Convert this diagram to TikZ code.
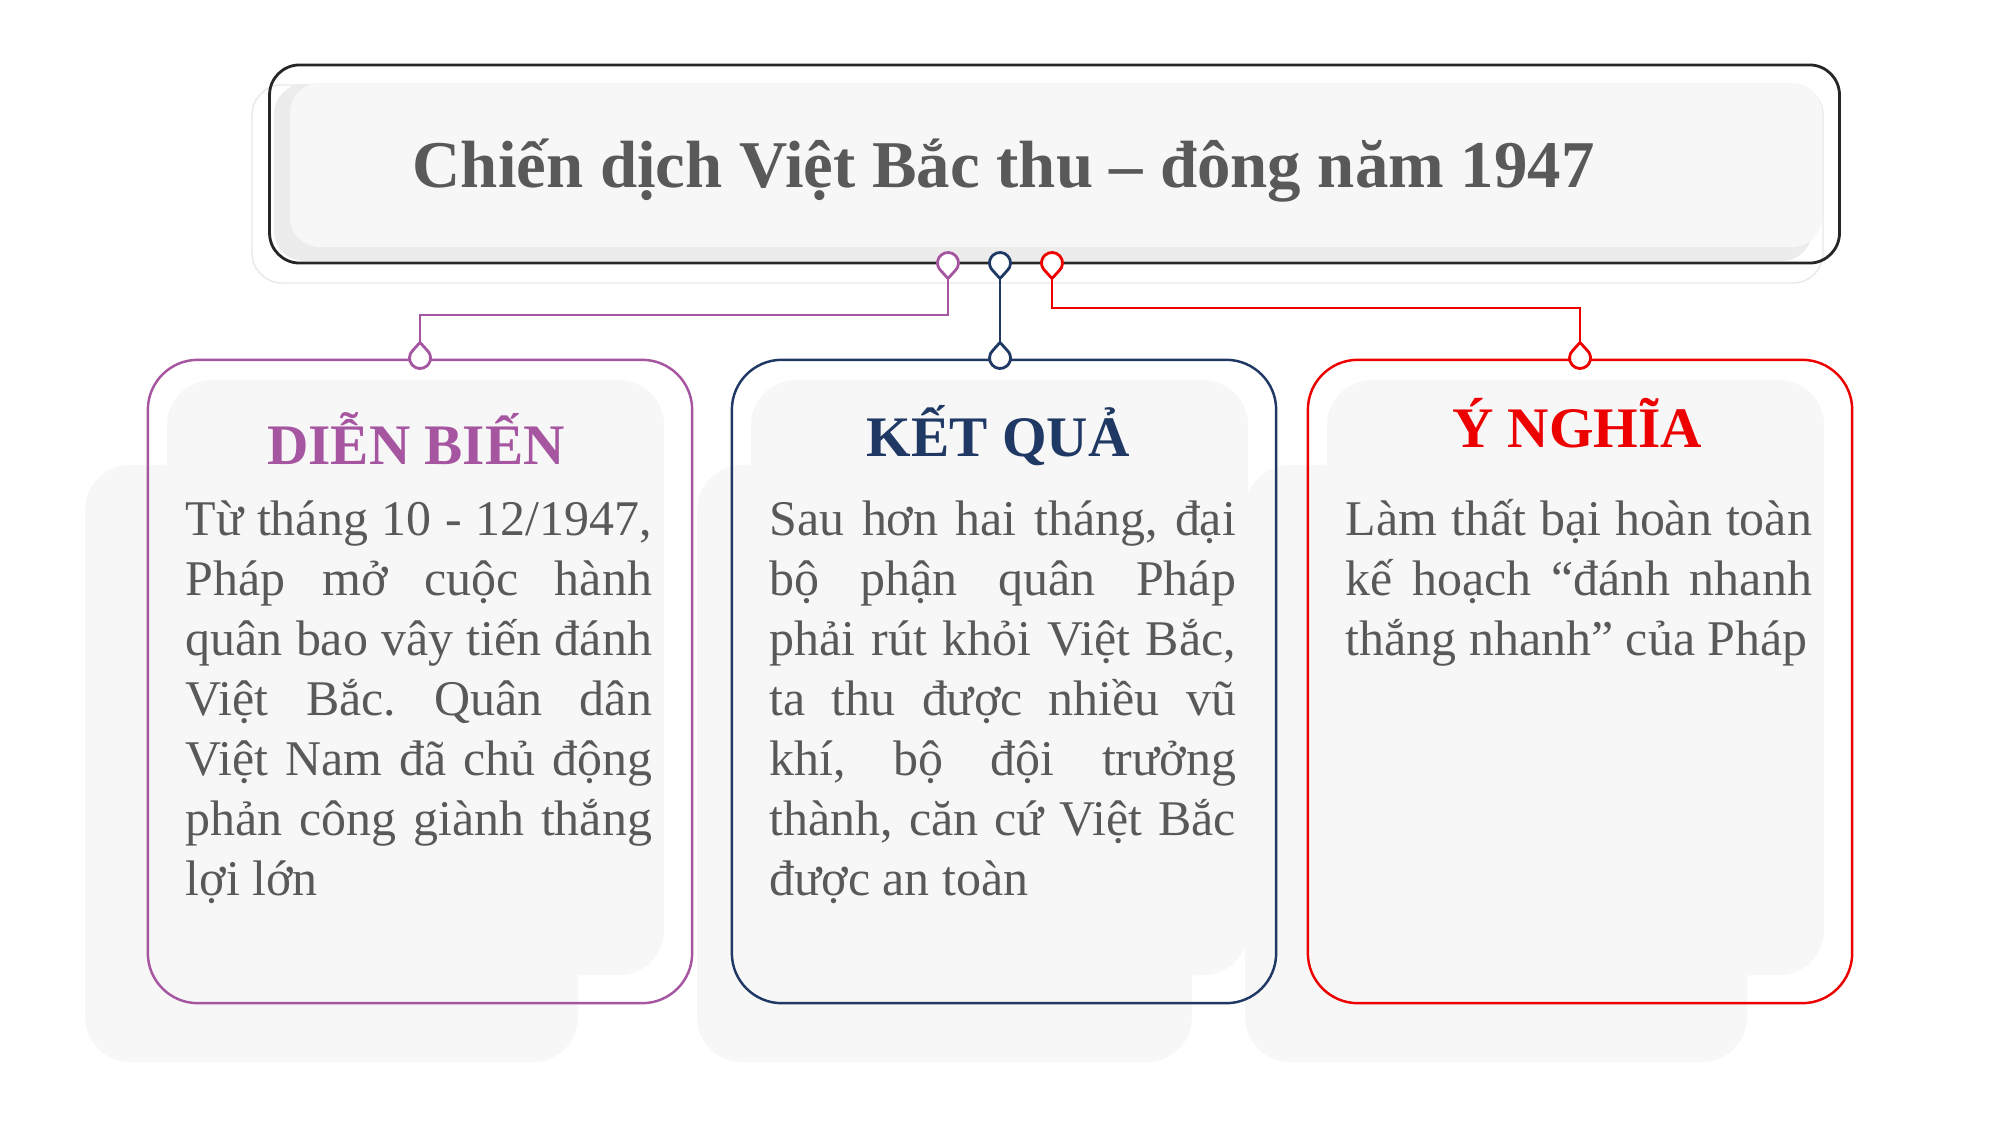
\documentclass[tikz,border=0pt]{standalone}
\usepackage{fontspec}
\setmainfont{Liberation Serif}
\usetikzlibrary{calc,positioning}
\definecolor{dbpink}{RGB}{166,85,160}
\definecolor{kqblue}{RGB}{31,56,100}
\definecolor{ynred}{RGB}{236,0,0}
\definecolor{txtgray}{RGB}{89,89,89}
\definecolor{panel}{RGB}{247,247,247}
\definecolor{panelband}{RGB}{236,236,236}
\hyphenpenalty=10000
\exhyphenpenalty=10000
\tolerance=9999
\frenchspacing
\tikzset{line/.style={draw, line width=0.65pt}}
\tikzset{droppin/.pic={\draw[line width=0.8pt, line join=round, fill=white] (0cm,-0.155cm) -- (-48:0.105cm) arc[start angle=-48, end angle=228, radius=0.105cm] -- cycle;}}

\begin{document}
\begin{tikzpicture}[x=0.01cm, y=-0.01cm]
\tikzstyle{card} = [rectangle, rounded corners=0.5cm, line width=0.7pt]
\tikzstyle{shade} = [fill=panel, rounded corners=0.45cm]
\tikzstyle{head} = [anchor=base, inner sep=0pt, font=\fontsize{16.3}{20}\bfseries]
\tikzstyle{body} = [anchor=north west, inner sep=0pt, text width=4.66cm, align=justify, text=txtgray, font=\fontsize{14.2}{17.07}\selectfont, yshift=15pt]

\fill[white] (0,0) rectangle (2001,1125);
\useasboundingbox (0,0) rectangle (2001,1125);

% background panels
    % title
    \draw[black!9, line width=0.4pt, rounded corners=0.3cm] (252,85) rectangle (1823,283);
    \fill[panelband, rounded corners=0.3cm] (274,84) rectangle (1812,261);
    \fill[panel, rounded corners=0.3cm] (290,83) rectangle (1822,247);
    % shadows
    \fill[shade] (85,465) rectangle (578,1062);
    \fill[shade] (697,465) rectangle (1192,1062);
    \fill[shade] (1245,465) rectangle (1747,1062);
    \fill[shade] (167,380) rectangle (664,975);
    \fill[shade] (751,380) rectangle (1248,975);
    \fill[shade] (1327,380) rectangle (1824,975);

% blocks
    % title
    \node [rectangle, rounded corners=0.3cm, draw={rgb,255:red,38;green,38;blue,38}, line width=0.8pt, minimum width=15.69cm, minimum height=1.98cm, inner sep=0pt] (title) at (1054.5,164) {};
    \node [anchor=base west, inner sep=0pt, text=txtgray, font=\fontsize{19}{22}\bfseries] (title text) at (412,188) {Chiến dịch Việt Bắc thu – đông năm 1947};
    % dien bien
    \node [card, draw=dbpink, minimum width=5.44cm, minimum height=6.43cm] (dienbien) at (420,681.5) {};
    \node [head, text=dbpink] (dienbien head) at (416,465) {DIỄN BIẾN};
    \node [body] (dienbien text) at (185,535) {\rule{0pt}{15pt}Từ tháng 10 - 12/1947,\linebreak Pháp mở cuộc hành\linebreak quân bao vây tiến đánh\linebreak Việt Bắc. Quân dân\linebreak Việt Nam đã chủ động\linebreak phản công giành thắng\linebreak lợi lớn};
    % ket qua
    \node [card, draw=kqblue, minimum width=5.44cm, minimum height=6.43cm] (ketqua) at (1004,681.5) {};
    \node [head, text=kqblue] (ketqua head) at (998,457) {KẾT QUẢ};
    \node [body] (ketqua text) at (769,535) {\rule{0pt}{15pt}Sau hơn hai tháng, đại\linebreak bộ phận quân Pháp\linebreak phải rút khỏi Việt Bắc,\linebreak ta thu được nhiều vũ\linebreak khí, bộ đội trưởng\linebreak thành, căn cứ Việt Bắc\linebreak được an toàn};
    % y nghia
    \node [card, draw=ynred, minimum width=5.44cm, minimum height=6.43cm] (ynghia) at (1580,681.5) {};
    \node [head, text=ynred] (ynghia head) at (1577,448) {Ý NGHĨA};
    \node [body] (ynghia text) at (1345,535) {\rule{0pt}{15pt}Làm thất bại hoàn toàn\linebreak kế hoạch “đánh nhanh\linebreak thắng nhanh” của Pháp};
    % pin tips
    \coordinate (dienbien top) at (948,279);
    \coordinate (ketqua top) at (1000,279);
    \coordinate (ynghia top) at (1052,279);
    \coordinate (dienbien pin) at (420,343);
    \coordinate (ketqua pin) at (1000,343);
    \coordinate (ynghia pin) at (1580,343);

% arrows
    \path [line, dbpink] (dienbien top) -- ++(0,36) -| (dienbien pin);
    \path [line, kqblue] (ketqua top) -- (ketqua pin);
    \path [line, ynred] (ynghia top) -- ++(0,29) -| (ynghia pin);
    % pins
    \pic [dbpink] at (948,263) {droppin};
    \pic [kqblue] at (1000,263) {droppin};
    \pic [ynred] at (1052,263) {droppin};
    \pic [dbpink, rotate=180] at (420,358) {droppin};
    \pic [kqblue, rotate=180] at (1000,358) {droppin};
    \pic [ynred, rotate=180] at (1580,358) {droppin};
\end{tikzpicture}
\end{document}
